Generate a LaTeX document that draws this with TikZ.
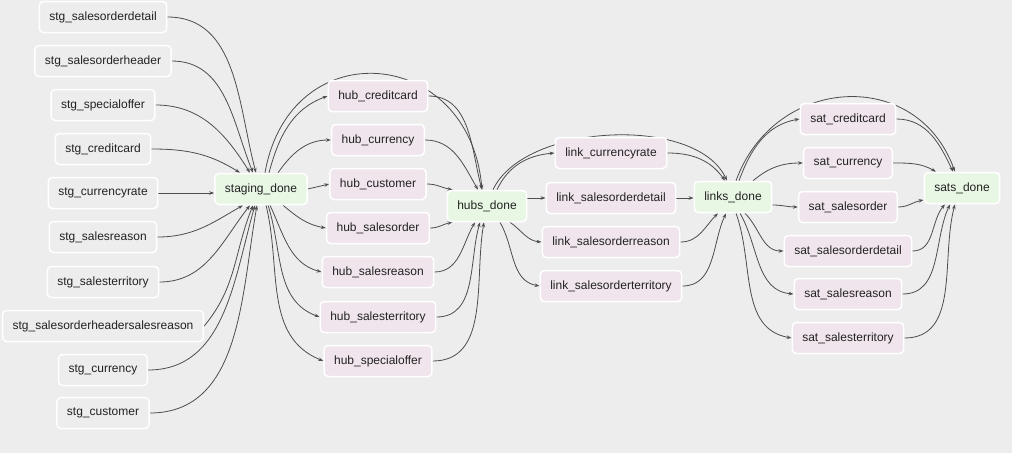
\documentclass[tikz,border=0pt]{standalone}
\usepackage{fontspec}
\setmainfont{Liberation Sans}
\usetikzlibrary{arrows.meta}
\definecolor{bgcol}{HTML}{EDEDED}
\definecolor{stgcol}{HTML}{EDEDED}
\definecolor{dvcol}{HTML}{F0E5ED}
\definecolor{donecol}{HTML}{E8F7E4}
\definecolor{edgecol}{HTML}{4D4D4D}
\definecolor{txtcol}{HTML}{222222}
\pgfdeclarelayer{back}
\pgfdeclarelayer{edges}
\pgfsetlayers{back,edges,main}

\begin{document}
\begin{tikzpicture}
      [x=1pt,y=1pt,
       task/.style={rectangle,rounded corners=4pt,draw=white,line width=1.5pt,
         minimum height=31pt,inner xsep=10pt,text=txtcol,
         font=\fontsize{12}{14}\selectfont},
       stg/.style={task,fill=stgcol},
       dv/.style={task,fill=dvcol},
       done/.style={task,fill=donecol},
       dep/.style={draw=edgecol,line width=0.8pt,
         -{Stealth[length=5pt,width=3.5pt]}}]
      \begin{pgfonlayer}{back}
        \fill[bgcol] (0,0) rectangle (1012,-453);
      \end{pgfonlayer}
      \useasboundingbox (0,0) rectangle (1012,-453);
      % columns of tasks
      \foreach \n/\y in {salesorderdetail/17,salesorderheader/61,specialoffer/105,
          creditcard/149,currencyrate/193,salesreason/237,salesterritory/282,
          salesorderheadersalesreason/326,currency/370,customer/413}
        \node[stg] (stg_\n) at (103,-\y) {stg\_\n};
      \node[done] (staging_done) at (261,-189) {staging\_done};
      \foreach \n/\y in {creditcard/96,currency/140,customer/184,salesorder/228,
          salesreason/272,salesterritory/317,specialoffer/361}
        \node[dv] (hub_\n) at (378,-\y) {hub\_\n};
      \node[done] (hubs_done) at (487,-206) {hubs\_done};
      \foreach \n/\y in {currencyrate/153,salesorderdetail/198,
          salesorderreason/242,salesorderterritory/286}
        \node[dv] (link_\n) at (611,-\y) {link\_\n};
      \node[done] (links_done) at (733,-197) {links\_done};
      \foreach \n/\y in {creditcard/119,currency/163,salesorder/207,
          salesorderdetail/251,salesreason/294,salesterritory/338}
        \node[dv] (sat_\n) at (848,-\y) {sat\_\n};
      \node[done] (sats_done) at (962,-188) {sats\_done};
      \begin{pgfonlayer}{edges}
        % staging
        \foreach \n/\dx/\a in {salesorderdetail/-5/105,salesorderheader/-8/112,
            specialoffer/-11/122,creditcard/-21/148}
          \draw[dep] (stg_\n.east) to[out=0,in=\a] ([xshift=\dx]staging_done.north);
        \draw[dep] (stg_currencyrate.east) -- (stg_currencyrate.east -| staging_done.west);
        \foreach \n/\o/\dx/\a in {salesreason/0/-18/-150,salesterritory/0/-11/-128,
            salesorderheadersalesreason/50/-8/-112,currency/0/-6/-106,customer/0/-4/-100}
          \draw[dep] (stg_\n.east) to[out=\o,in=\a] ([xshift=\dx]staging_done.south);
        % hubs
        \foreach \n/\dx/\o/\a in {creditcard/8/75/200,currency/17/55/180}
          \draw[dep] ([xshift=\dx]staging_done.north) to[out=\o,in=\a] (hub_\n.west);
        \draw[dep] (staging_done.east) -- (hub_customer.west);
        \foreach \n/\dx/\o/\a in {salesorder/22/-40/170,salesreason/9/-65/165,
            salesterritory/7/-72/160,specialoffer/5/-76/158}
          \draw[dep] ([xshift=\dx]staging_done.south) to[out=\o,in=\a] (hub_\n.west);
        \draw[dep] ([xshift=4]staging_done.north) to[out=80,in=95,looseness=1.7]
          ([xshift=-5]hubs_done.north);
        \foreach \n/\dx/\a in {creditcard/-5/105,currency/-9/120}
          \draw[dep] (hub_\n.east) to[out=0,in=\a] ([xshift=\dx]hubs_done.north);
        \draw[dep] (hub_customer.east) to[out=0,in=170] ([xshift=6]hubs_done.north west);
        \draw[dep] (hub_salesorder.east) to[out=0,in=190] ([xshift=6]hubs_done.south west);
        \foreach \n/\dx/\a in {salesreason/-12/-120,salesterritory/-7/-106,
            specialoffer/-3/-100}
          \draw[dep] (hub_\n.east) to[out=0,in=\a] ([xshift=\dx]hubs_done.south);
        % links
        \draw[dep] ([xshift=10]hubs_done.north) to[out=65,in=185] (link_currencyrate.west);
        \draw[dep] ([xshift=6]hubs_done.north) to[out=65,in=115,looseness=0.8]
          ([xshift=-6]links_done.north);
        \draw[dep] (link_salesorderdetail.west -| hubs_done.east) -- (link_salesorderdetail.west);
        \draw[dep] ([xshift=23]hubs_done.south) to[out=-35,in=175] (link_salesorderreason.west);
        \draw[dep] ([xshift=13]hubs_done.south) to[out=-60,in=170] (link_salesorderterritory.west);
        \draw[dep] (link_currencyrate.east) to[out=0,in=125] ([xshift=-8]links_done.north);
        \draw[dep] (link_salesorderdetail.east) -- (link_salesorderdetail.east -| links_done.west);
        \draw[dep] (link_salesorderreason.east) to[out=0,in=-135] ([xshift=-15]links_done.south);
        \draw[dep] (link_salesorderterritory.east) to[out=0,in=-115] ([xshift=-7]links_done.south);
        % sats
        \draw[dep] ([xshift=6]links_done.north) to[out=70,in=190] (sat_creditcard.west);
        \draw[dep] ([xshift=3]links_done.north) to[out=70,in=110,looseness=1.31]
          ([xshift=-7]sats_done.north);
        \draw[dep] ([xshift=20]links_done.north) to[out=40,in=180] (sat_currency.west);
        \draw[dep] ([yshift=-8]links_done.east) to[out=0,in=180] (sat_salesorder.west);
        \foreach \n/\dx/\o/\a in {salesorderdetail/12/-45/180,salesreason/7/-60/175,
            salesterritory/3/-70/170}
          \draw[dep] ([xshift=\dx]links_done.south) to[out=\o,in=\a] (sat_\n.west);
        \draw[dep] (sat_creditcard.east) to[out=0,in=115] ([xshift=-9]sats_done.north);
        \draw[dep] (sat_currency.east) to[out=0,in=150] ([xshift=-26]sats_done.north);
        \draw[dep] (sat_salesorder.east) to[out=0,in=190] ([yshift=-12]sats_done.west);
        \foreach \n/\dx/\a in {salesorderdetail/-17/-130,salesreason/-12/-115,
            salesterritory/-7/-105}
          \draw[dep] (sat_\n.east) to[out=0,in=\a] ([xshift=\dx]sats_done.south);
      \end{pgfonlayer}
    \end{tikzpicture}
\end{document}
